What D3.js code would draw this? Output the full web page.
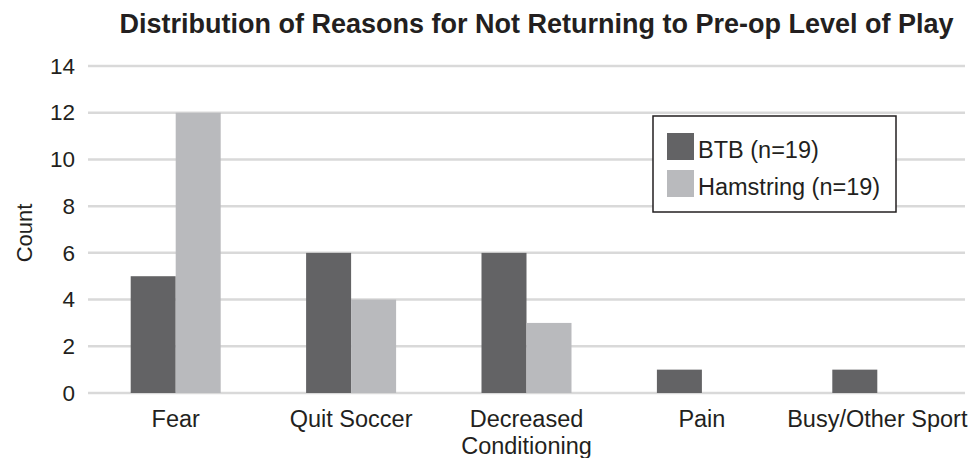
<!DOCTYPE html>
<html><head><meta charset="utf-8">
<script src="https://cdn.jsdelivr.net/npm/d3@7"></script>
<style>
body{margin:0;background:#fff;}
text{font-family:"Liberation Sans",Arial,Helvetica,sans-serif;}
</style></head>
<body><svg id="c" width="973" height="458"></svg>
<script>
const categories = ["Fear","Quit Soccer","Decreased\nConditioning","Pain","Busy/Other Sport"];
const seriesNames = ["BTB (n=19)","Hamstring (n=19)"];
const btbValues = [5,6,6,1,1];
const hamstringValues = [12,4,3,0,0];
const yTicks = [0,2,4,6,8,10,12,14];
const colors = ["#636365","#b9babd"];

const svg = d3.select("#c");
const m = {l:88,r:8};
const W = 973;
const x = d3.scaleBand().domain(categories).range([m.l, W-m.r]).paddingInner(0).paddingOuter(0);
const y = d3.scaleLinear().domain([0,14]).range([393,66]);
const txt = "#231f20";

// gridlines
svg.append("g").selectAll("line").data(yTicks).join("line")
  .attr("x1", m.l).attr("x2", W-m.r)
  .attr("y1", d=>y(d)).attr("y2", d=>y(d))
  .attr("stroke","#d9d9d9").attr("stroke-width",2.5);

// y axis labels
const yAxis = d3.axisLeft(y).tickValues(yTicks).tickSize(0).tickPadding(0);
const ga = svg.append("g").attr("transform",`translate(${m.l-13},0)`).call(yAxis);
ga.select(".domain").remove();
ga.selectAll("text").attr("font-size",22.5).attr("fill",txt).attr("font-family","Liberation Sans, Arial, sans-serif");

// bars
const series = [btbValues, hamstringValues];
const bw = 45;
series.forEach((vals,si)=>{
  svg.append("g").selectAll("rect").data(vals).join("rect")
    .attr("x",(d,i)=> x(categories[i]) + x.bandwidth()/2 + (si===0 ? -bw : 0))
    .attr("width",bw)
    .attr("y",d=>y(d)).attr("height",d=>y(0)-y(d))
    .attr("fill",colors[si]);
});

// x labels
const xl = svg.append("g");
categories.forEach(c=>{
  const lines = c.split("\n");
  const cx = x(c)+x.bandwidth()/2;
  const t = xl.append("text").attr("x", cx).attr("y",427)
    .attr("text-anchor","middle").attr("font-size",23.5).attr("fill",txt);
  lines.forEach((ln,i)=>t.append("tspan").attr("x",cx).attr("dy",i===0?0:26.5).text(ln));
});

// y title
svg.append("text").attr("transform","translate(32,233) rotate(-90)")
  .attr("text-anchor","middle").attr("font-size",22).attr("fill",txt).text("Count");

// title
svg.append("text").attr("x",536.5).attr("y",33).attr("text-anchor","middle")
  .attr("font-size",27).attr("font-weight","bold").attr("fill",txt)
  .text("Distribution of Reasons for Not Returning to Pre-op Level of Play");

// legend
const lg = svg.append("g");
lg.append("rect").attr("x",653).attr("y",116).attr("width",243).attr("height",96)
  .attr("fill","#fff").attr("stroke",txt).attr("stroke-width",1.5);
seriesNames.forEach((s,i)=>{
  lg.append("rect").attr("x",667).attr("y",133+i*37).attr("width",27).attr("height",27).attr("fill",colors[i]);
  lg.append("text").attr("x",698).attr("y",158+i*36.5).attr("font-size",23.5).attr("fill",txt).text(s);
});
</script></body></html>
